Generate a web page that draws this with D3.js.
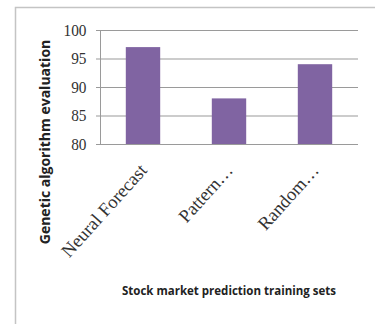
<!DOCTYPE html>
<html>
<head>
<meta charset="utf-8">
<script src="https://cdn.jsdelivr.net/npm/d3@7"></script>
<style>
  body { margin: 0; background: #fff; }
  svg { display: block; }
</style>
</head>
<body>
<div class="chart"></div>
<script>
// chart values
var categories = ["Neural Forecast", "Pattern…", "Random…"];
var scores = [97, 88, 94];
var yTicks = [80, 85, 90, 95, 100];

var serif = "'Liberation Serif', 'Times New Roman', serif";
var sans = "'Open Sans', 'DejaVu Sans', sans-serif";

var svgWidth = 375, svgHeight = 324;
var margin = { top: 30, right: 17, bottom: 180, left: 100 };
var width = svgWidth - margin.left - margin.right;
var height = 144 - margin.top;

var svg = d3.select(".chart")
  .append("svg")
  .attr("width", svgWidth)
  .attr("height", svgHeight);

// outer frame (only top and left edges visible)
svg.append("path")
  .attr("d", "M15.5,324 V7.5 H375")
  .attr("fill", "none")
  .attr("stroke", "#c4c4c4")
  .attr("stroke-width", 1.5);

var chartGroup = svg.append("g")
  .attr("transform", `translate(${margin.left}, ${margin.top})`);

var xScale = d3.scaleBand()
  .domain(categories)
  .range([0, width])
  .paddingInner(0.6)
  .paddingOuter(0.3);

var yScale = d3.scaleLinear()
  .domain([80, 100])
  .range([height, 0]);

// gridlines + y ticks
var yAxis = d3.axisLeft(yScale)
  .tickValues(yTicks)
  .tickSize(-width)
  .tickSizeOuter(0)
  .tickPadding(15);

var yG = chartGroup.append("g").call(yAxis);
yG.attr("font-family", null);
yG.select(".domain")
  .attr("stroke", "#9a9a9a")
  .attr("d", `M0.5,0V${height}`);
yG.selectAll(".tick line")
  .attr("x1", -4)
  .attr("stroke", "#9a9a9a")
  .attr("stroke-width", 1.2);
yG.selectAll(".tick text")
  .style("font-family", serif)
  .style("font-size", "17px")
  .attr("fill", "#333")
  .attr("transform", "scale(0.9,1)");

// bars
chartGroup.selectAll("rect.bar")
  .data(scores)
  .enter()
  .append("rect")
  .attr("class", "bar")
  .attr("x", (d, i) => xScale(categories[i]))
  .attr("y", d => yScale(d))
  .attr("width", xScale.bandwidth())
  .attr("height", d => height - yScale(d))
  .attr("fill", "#8064a2");

// rotated category labels
chartGroup.selectAll("text.cat")
  .data(categories)
  .enter()
  .append("text")
  .attr("class", "cat")
  .attr("transform", d => `translate(${xScale(d) + xScale.bandwidth() / 2 + 5}, ${height + 27}) rotate(-48)`)
  .attr("text-anchor", "end")
  .style("font-family", serif)
  .style("font-size", "18.5px")
  .attr("fill", "#333")
  .text(d => d);

// axis titles
svg.append("text")
  .attr("transform", "translate(49.5, 142) rotate(-90)")
  .attr("text-anchor", "middle")
  .style("font-family", sans)
  .style("font-weight", "bold")
  .style("font-size", "14px")
  .attr("fill", "#222")
  .text("Genetic algorithm evaluation");

svg.append("text")
  .attr("x", 229)
  .attr("y", 295)
  .attr("text-anchor", "middle")
  .style("font-family", sans)
  .style("font-weight", "bold")
  .style("font-size", "11.5px")
  .attr("fill", "#222")
  .text("Stock market prediction training sets");
</script>
</body>
</html>
